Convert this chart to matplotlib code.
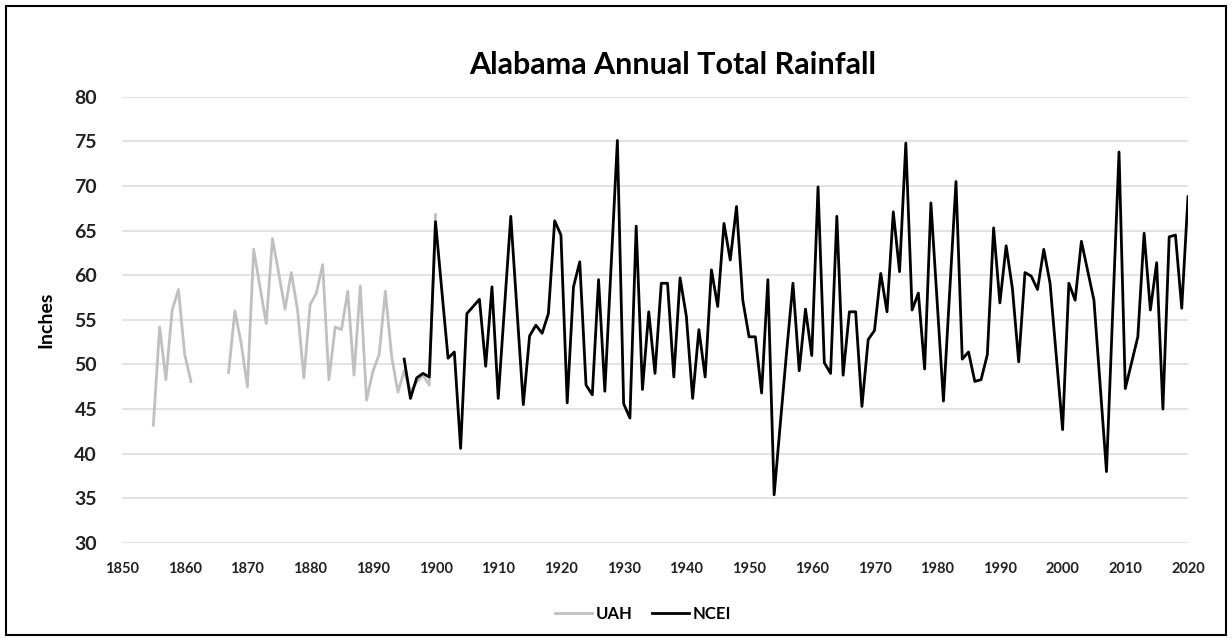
import matplotlib.pyplot as plt
import numpy as np
from matplotlib.patches import Rectangle

# UAH series: two runs with a gap (1862-1866 missing)
uah_years = list(range(1855, 1862)) + list(range(1867, 1901))
uah_vals = [43.2, 54.2, 48.3, 56.1, 58.4, 51.1, 48.1,
            49.1, 56.0, 52.4, 47.5, 62.9, 58.7, 54.6, 64.1, 60.2, 56.2,
            60.3, 56.1, 48.5, 56.7, 58.0, 61.2, 48.3, 54.2, 53.9, 58.2,
            48.8, 58.8, 46.0, 49.2, 51.1, 58.2, 50.9, 46.9, 49.3, 47.0,
            48.0, 48.8, 47.7, 66.8]

ncei_years = list(range(1895, 2021))
ncei_vals = [50.6, 46.2, 48.5, 49.0, 48.6, 66.0, 58.3, 50.7, 51.4, 40.6,
             55.7, 56.5, 57.3, 49.8, 58.7, 46.2, 56.4, 66.6, 56.0, 45.5,
             53.2, 54.4, 53.5, 55.7, 66.1, 64.5, 45.7, 58.7, 61.5, 47.7,
             46.6, 59.5, 47.0, 61.0, 75.1, 45.6, 44.0, 65.5, 47.2, 55.9,
             49.0, 59.1, 59.1, 48.6, 59.7, 55.4, 46.2, 53.9, 48.6, 60.6,
             56.5, 65.8, 61.7, 67.7, 57.2, 53.1, 53.1, 46.8, 59.5, 35.4,
             43.5, 51.5, 59.1, 49.3, 56.2, 51.0, 69.9, 50.2, 49.0, 66.6,
             48.8, 55.9, 55.9, 45.3, 52.8, 53.8, 60.2, 55.9, 67.1, 60.4,
             74.8, 56.1, 58.0, 49.5, 68.1, 57.0, 45.9, 58.2, 70.5, 50.6,
             51.4, 48.1, 48.3, 51.1, 65.3, 56.9, 63.3, 58.5, 50.3, 60.3,
             59.9, 58.4, 62.9, 59.1, 50.9, 42.7, 59.1, 57.2, 63.8, 60.5,
             57.2, 47.6, 38.0, 56.0, 73.8, 47.3, 50.2, 53.1, 64.7, 56.1,
             61.4, 45.0, 64.3, 64.5, 56.3, 68.8]

yticks = list(range(30, 81, 5))
xticks = list(range(1850, 2021, 10))

fig = plt.figure(figsize=(12.32, 6.41), dpi=100)
ax = fig.add_axes([122 / 1232, 1 - 543 / 641, (1188 - 122) / 1232, (543 - 96.7) / 641])

# break the UAH line across the missing years
uy = np.array(uah_years, dtype=float)
uv = np.array(uah_vals, dtype=float)
gap = np.where(np.diff(uy) > 1)[0] + 1
uy = np.insert(uy, gap, np.nan)
uv = np.insert(uv, gap, np.nan)

ax.plot(uy, uv, color="#c0c0c0", lw=2.0, label="UAH", zorder=3)
ax.plot(ncei_years, ncei_vals, color="black", lw=2.0, label="NCEI", zorder=4)

ax.set_xlim(1850, 2020)
ax.set_ylim(30, 80)
ax.set_yticks(yticks)
ax.set_xticks(xticks)
ax.grid(axis="y", color="#dedede", lw=1.2)
ax.set_axisbelow(True)
for s in ax.spines.values():
    s.set_visible(False)
ax.tick_params(length=0)
ax.tick_params(axis="y", labelsize=14, pad=18)
ax.tick_params(axis="x", labelsize=10.5, pad=14)
for lab in ax.get_xticklabels() + ax.get_yticklabels():
    lab.set_fontweight("bold")
    lab.set_family("Lato")
    lab.set_color("#222222")

ax.set_ylabel("Inches", fontsize=14, fontweight="bold", family="Lato", labelpad=14)
fig.text(0.546, 0.898, "Alabama Annual Total Rainfall", ha="center", va="center",
         fontsize=22, fontweight="bold", family="Lato")

leg = fig.legend(loc="center", bbox_to_anchor=(0.522, 0.042), ncol=2, frameon=False,
                 prop={"family": "Lato", "weight": "bold", "size": 12},
                 handlelength=2.2, handletextpad=0.2, columnspacing=1.2)

fig.patches.append(Rectangle((6 / 1232, 6 / 641), 1220 / 1232, 629 / 641,
                             transform=fig.transFigure, fill=False,
                             edgecolor="black", lw=1.5))

fig.savefig("out.png", dpi=100)
